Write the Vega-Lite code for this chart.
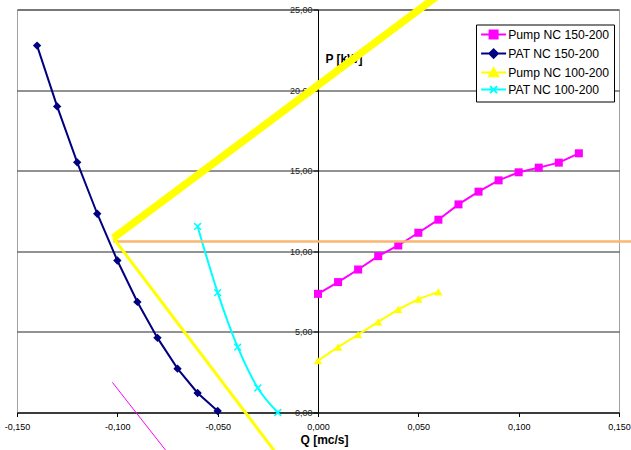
{
  "$schema": "https://vega.github.io/schema/vega-lite/v6.json",
  "autosize": {"type": "none"},
  "width": 602,
  "height": 403,
  "padding": {"left": 17, "top": 9.5, "right": 12, "bottom": 37.5},
  "background": "white",
  "config": {
    "font": "Liberation Sans",
    "view": {"stroke": "#a0a0a0", "strokeWidth": 1}
  },
  "datasets": {
    "curves": [
      {"series": "Pump NC 150-200", "q": 0.00, "P": 7.36},
      {"series": "Pump NC 150-200", "q": 0.01, "P": 8.09},
      {"series": "Pump NC 150-200", "q": 0.02, "P": 8.87},
      {"series": "Pump NC 150-200", "q": 0.03, "P": 9.70},
      {"series": "Pump NC 150-200", "q": 0.04, "P": 10.36},
      {"series": "Pump NC 150-200", "q": 0.05, "P": 11.15},
      {"series": "Pump NC 150-200", "q": 0.06, "P": 11.96},
      {"series": "Pump NC 150-200", "q": 0.07, "P": 12.91},
      {"series": "Pump NC 150-200", "q": 0.08, "P": 13.70},
      {"series": "Pump NC 150-200", "q": 0.09, "P": 14.40},
      {"series": "Pump NC 150-200", "q": 0.10, "P": 14.90},
      {"series": "Pump NC 150-200", "q": 0.11, "P": 15.19},
      {"series": "Pump NC 150-200", "q": 0.12, "P": 15.50},
      {"series": "Pump NC 150-200", "q": 0.13, "P": 16.08},
      {"series": "PAT NC 150-200", "q": -0.14, "P": 22.76},
      {"series": "PAT NC 150-200", "q": -0.13, "P": 18.99},
      {"series": "PAT NC 150-200", "q": -0.12, "P": 15.52},
      {"series": "PAT NC 150-200", "q": -0.11, "P": 12.33},
      {"series": "PAT NC 150-200", "q": -0.10, "P": 9.43},
      {"series": "PAT NC 150-200", "q": -0.09, "P": 6.86},
      {"series": "PAT NC 150-200", "q": -0.08, "P": 4.63},
      {"series": "PAT NC 150-200", "q": -0.07, "P": 2.72},
      {"series": "PAT NC 150-200", "q": -0.06, "P": 1.21},
      {"series": "PAT NC 150-200", "q": -0.05, "P": 0.09},
      {"series": "Pump NC 100-200", "q": 0.00, "P": 3.22},
      {"series": "Pump NC 100-200", "q": 0.01, "P": 4.05},
      {"series": "Pump NC 100-200", "q": 0.02, "P": 4.83},
      {"series": "Pump NC 100-200", "q": 0.03, "P": 5.62},
      {"series": "Pump NC 100-200", "q": 0.04, "P": 6.39},
      {"series": "Pump NC 100-200", "q": 0.05, "P": 7.03},
      {"series": "Pump NC 100-200", "q": 0.06, "P": 7.48},
      {"series": "PAT NC 100-200", "q": -0.06, "P": 11.54},
      {"series": "PAT NC 100-200", "q": -0.05, "P": 7.44},
      {"series": "PAT NC 100-200", "q": -0.04, "P": 4.05},
      {"series": "PAT NC 100-200", "q": -0.03, "P": 1.52},
      {"series": "PAT NC 100-200", "q": -0.02, "P": 0.0}
    ],
    "drawn": [
      {"item": "thick", "q": -0.102, "P": 10.82},
      {"item": "thick", "q": 0.0638, "P": 26.24},
      {"item": "thin", "q": -0.102, "P": 10.82},
      {"item": "thin", "q": -0.021, "P": -2.5},
      {"item": "orange", "q": -0.102, "P": 10.61},
      {"item": "orange", "q": 0.16, "P": 10.61},
      {"item": "pink", "q": -0.1025, "P": 1.87},
      {"item": "pink", "q": -0.0749, "P": -2.5}
    ]
  },
  "encoding": {
    "x": {
      "field": "q", "type": "quantitative",
      "scale": {"domain": [-0.15, 0.15], "nice": false, "zero": false},
      "axis": {
        "title": "Q [mc/s]",
        "titleFont": "Liberation Sans", "titleFontSize": 12, "titleFontWeight": "bold", "titleColor": "#000",
        "titlePadding": 3, "titleX": 307,
        "values": [-0.15, -0.1, -0.05, 0, 0.05, 0.1, 0.15],
        "labelExpr": "replace(replace(format(datum.value, '.3f'), '.', ','), '\u2212', '-')",
        "labelFont": "Liberation Sans", "labelFontSize": 9, "labelColor": "#000",
        "labelPadding": 6, "labelFlush": false, "labelOverlap": false,
        "tickSize": 4, "tickColor": "#000", "domainColor": "#000", "domainWidth": 1,
        "grid": false
      }
    },
    "y": {
      "field": "P", "type": "quantitative",
      "scale": {"domain": [0, 25], "nice": false},
      "axis": {
        "title": "P [kW]", "orient": "left", "offset": -301,
        "titleAngle": 0, "titleX": 7, "titleY": 53, "titleAlign": "left", "titleBaseline": "alphabetic",
        "titleFont": "Liberation Sans", "titleFontSize": 12, "titleFontWeight": "bold", "titleColor": "#000",
        "values": [0, 5, 10, 15, 20, 25],
        "labelExpr": "replace(format(datum.value, '.2f'), '.', ',')",
        "labelFont": "Liberation Sans", "labelFontSize": 9, "labelColor": "#222",
        "labelPadding": 1, "tickSize": 5, "tickColor": "#000",
        "domainColor": "#000", "domainWidth": 1,
        "grid": true, "gridColor": "#000", "gridWidth": 1, "gridOpacity": 0.85
      }
    }
  },
  "layer": [
    {
      "data": {"name": "curves"},
      "transform": [{"filter": "datum.series != 'PAT NC 100-200'"}],
      "mark": {"type": "line", "strokeWidth": 2},
      "encoding": {
        "color": {
          "field": "series", "type": "nominal",
          "scale": {
            "domain": ["Pump NC 150-200", "PAT NC 150-200", "Pump NC 100-200", "PAT NC 100-200"],
            "range": ["#FF00FF", "#000080", "#FFFF00", "#00FFFF"]
          },
          "legend": {
            "title": null, "orient": "none", "legendX": 459, "legendY": 15,
            "fillColor": "white", "strokeColor": "#000", "padding": 4,
            "labelFont": "Liberation Sans", "labelFontSize": 12.2, "labelColor": "#000",
            "labelOffset": 16, "symbolSize": 100, "symbolStrokeWidth": 2, "rowPadding": 1,
            "encode": {
              "symbols": {
                "update": {
                  "shape": {"signal": "datum.value == 'Pump NC 150-200' ? 'M-1,0H4M0.7,-0.8H2.3V0.8H0.7Z' : datum.value == 'PAT NC 150-200' ? 'M-1,0H4M1.5,-0.85L2.35,0L1.5,0.85L0.65,0Z' : datum.value == 'Pump NC 100-200' ? 'M-1,0H4M1.5,-0.85L2.4,0.75H0.6Z' : 'M-1,0H4M0.8,-0.7L2.2,0.7M2.2,-0.7L0.8,0.7'"},
                  "fill": {"scale": "color", "field": "value"},
                  "stroke": {"scale": "color", "field": "value"},
                  "strokeWidth": {"value": 2},
                  "opacity": {"value": 1}
                }
              }
            }
          },
          "sort": null
        },
        "detail": {"field": "series"}
      }
    },
    {
      "data": {"name": "curves"},
      "transform": [{"filter": "datum.series == 'PAT NC 100-200'"}],
      "mark": {"type": "line", "strokeWidth": 2, "interpolate": "monotone"},
      "encoding": {
        "color": {"field": "series", "type": "nominal"}
      }
    },
    {
      "data": {"name": "curves"},
      "transform": [{"filter": "datum.series == 'Pump NC 150-200'"}],
      "mark": {"type": "point", "filled": true, "opacity": 1, "shape": "square", "size": 64},
      "encoding": {"color": {"field": "series", "type": "nominal"}}
    },
    {
      "data": {"name": "curves"},
      "transform": [{"filter": "datum.series == 'PAT NC 150-200'"}],
      "mark": {"type": "point", "filled": true, "opacity": 1, "shape": "diamond", "size": 70},
      "encoding": {"color": {"field": "series", "type": "nominal"}}
    },
    {
      "data": {"name": "curves"},
      "transform": [{"filter": "datum.series == 'Pump NC 100-200'"}],
      "mark": {"type": "point", "filled": true, "opacity": 1, "shape": "triangle-up", "size": 70},
      "encoding": {"color": {"field": "series", "type": "nominal"}}
    },
    {
      "data": {"name": "curves"},
      "transform": [{"filter": "datum.series == 'PAT NC 100-200'"}],
      "mark": {"type": "point", "filled": false, "opacity": 1, "shape": "M-1,-1L1,1M1,-1L-1,1", "size": 45, "strokeWidth": 1.5},
      "encoding": {"color": {"field": "series", "type": "nominal"}}
    },
    {
      "data": {"name": "drawn"},
      "transform": [{"filter": "datum.item == 'orange'"}],
      "mark": {"type": "line", "clip": false, "color": "#F9B76F", "strokeWidth": 2.5},
      "encoding": {}
    },
    {
      "data": {"name": "drawn"},
      "transform": [{"filter": "datum.item == 'pink'"}],
      "mark": {"type": "line", "clip": false, "color": "#FF00FF", "strokeWidth": 1},
      "encoding": {}
    },
    {
      "data": {"name": "drawn"},
      "transform": [{"filter": "datum.item == 'thin'"}],
      "mark": {"type": "line", "clip": false, "color": "#FFFF00", "strokeWidth": 3},
      "encoding": {}
    },
    {
      "data": {"name": "drawn"},
      "transform": [{"filter": "datum.item == 'thick'"}],
      "mark": {"type": "line", "clip": false, "color": "#FFFF00", "strokeWidth": 7.5},
      "encoding": {}
    }
  ]
}
